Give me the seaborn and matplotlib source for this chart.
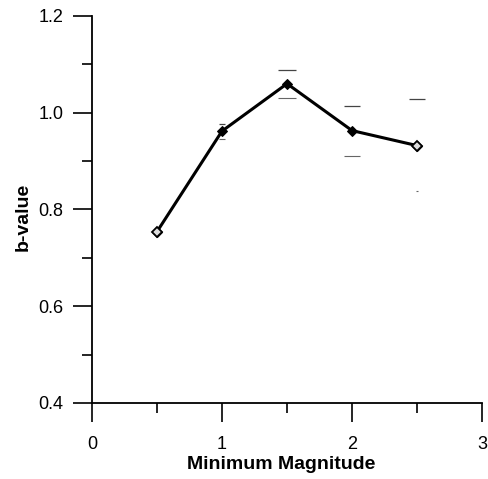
import matplotlib
matplotlib.use("Agg")
import matplotlib.pyplot as plt
import seaborn as sns
import pandas as pd
from matplotlib.ticker import MultipleLocator

sns.set_theme(style="ticks")
plt.rcParams['font.family'] = ['Liberation Sans', 'DejaVu Sans']

min_mag = [0.5, 1.0, 1.5, 2.0, 2.5]
b_value = [0.754, 0.962, 1.060, 0.963, 0.932]
err_low = [0.750, 0.946, 1.030, 0.910, 0.838]
err_high = [0.758, 0.976, 1.088, 1.014, 1.029]
cap_low_width = [0.02, 0.02, 0.07, 0.06, 0.01]
cap_high_width = [0.02, 0.02, 0.07, 0.06, 0.06]
open_marker = [True, False, False, False, True]

df = pd.DataFrame({"mag": min_mag, "b": b_value})

fig = plt.figure(figsize=(4.89, 4.79), dpi=100)
ax = fig.add_axes([0.188, 0.1587, 0.798, 0.808])

# error caps (thin grey, no vertical bar)
for x, lo, hi, wl, wh in zip(min_mag, err_low, err_high, cap_low_width, cap_high_width):
    ax.hlines(lo, x - wl, x + wl, color="#666666", lw=0.8, zorder=2)
    ax.hlines(hi, x - wh, x + wh, color="#444444", lw=0.9, zorder=2)

sns.lineplot(data=df, x="mag", y="b", ax=ax, color="black", lw=2.2,
             marker="D", markersize=5.5, markeredgecolor="black",
             markerfacecolor="black", zorder=3)
for x, y, o in zip(min_mag, b_value, open_marker):
    if o:
        ax.plot([x], [y], marker="D", markersize=5.5, mfc="#dddddd",
                mec="black", mew=1.3, zorder=4)

ax.set_xlim(0, 3)
ax.set_ylim(0.4, 1.2)
ax.xaxis.set_minor_locator(MultipleLocator(0.5))
ax.yaxis.set_minor_locator(MultipleLocator(0.1))
ax.set_xticks([0, 1, 2, 3])
ax.set_xticklabels(["0", "1", "2", "3"])
ax.set_yticks([0.4, 0.6, 0.8, 1.0, 1.2])
ax.set_yticklabels(["0.4", "0.6", "0.8", "1.0", "1.2"])

ax.tick_params(which="major", length=13.5, width=1.2, color="black",
               labelsize=13, labelcolor="black")
ax.tick_params(which="minor", length=7, width=1.2, color="black")
ax.tick_params(axis="x", which="major", pad=10)
ax.tick_params(axis="y", which="major", pad=7)

for s in ["top", "right"]:
    ax.spines[s].set_visible(False)
for s in ["left", "bottom"]:
    ax.spines[s].set_color("black")
    ax.spines[s].set_linewidth(1.3)

ax.set_xlabel("Minimum Magnitude", fontsize=14, fontweight="bold",
              color="black")
ax.xaxis.set_label_coords(0.485, -0.137)
ax.set_ylabel("b-value", fontsize=14, fontweight="bold",
              labelpad=10, color="black")
ax.yaxis.set_label_coords(-0.155, 0.48)

fig.savefig("out.png", dpi=100)
